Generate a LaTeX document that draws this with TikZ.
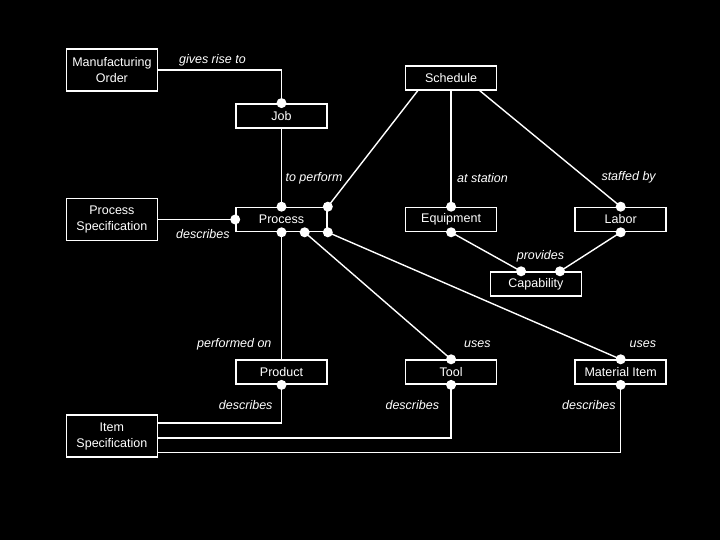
\documentclass[tikz,border=0pt]{standalone}
\usepackage{fontspec}
\setmainfont{Liberation Sans}
\usepackage{tikz}
\usetikzlibrary{positioning,calc}

\begin{document}
\begin{tikzpicture}[
  x=1pt, y=1pt,
  entity/.style={draw=white, line width=1.6pt, text=white, minimum width=91pt, minimum height=24pt, inner sep=2pt, align=center, font=\fontsize{12.5}{16}\selectfont},
  entity2/.style={entity, minimum height=42pt},
  link/.style={draw=white, line width=1.4pt},
  lbl/.style={text=white, font=\fontsize{12.5}{15}\selectfont\itshape},
  dot/.style={circle, fill=white, inner sep=0pt, minimum size=10pt}
]
\fill[black] (0,0) rectangle (720,540);
\useasboundingbox (0,0) rectangle (720,540);

% entities
\node[entity] (proc) at (281.5,320.5) {Process};
\node[entity2, left=77pt of proc] (pspec) {Process\\Specification};
\node[entity, right=77pt of proc] (equip) {Equipment};
\node[entity, right=77pt of equip] (labor) {Labor};
\node[entity, above=78pt of proc] (job) {Job};
\node[entity, above=116pt of equip] (sched) {Schedule};
\node[entity, below=127pt of proc] (prod) {Product};
\node[entity, below=127pt of equip] (tool) {Tool};
\node[entity, below=127pt of labor] (mat) {Material Item};
\node[entity2, above=106pt of pspec] (mo) {Manufacturing\\Order};
\node[entity2, below=173pt of pspec] (ispec) {Item\\Specification};
\coordinate (capmid) at ($(equip.south)!0.5!(labor.south)$);
\node[entity, below=39pt of capmid] (cap) {Capability};

% attachment points
\coordinate (schedL) at ($(sched.south west)!0.14!(sched.south east)$);
\coordinate (schedR) at ($(sched.south west)!0.81!(sched.south east)$);
\coordinate (procB) at ($(proc.south)!0.5!(proc.south east)$);
\coordinate (capL) at ($(cap.north west)!0.34!(cap.north east)$);
\coordinate (capR) at ($(cap.north west)!0.76!(cap.north east)$);
\coordinate (ispecA) at ($(ispec.north east)!0.2!(ispec.south east)$);
\coordinate (ispecB) at ($(ispec.north east)!0.54!(ispec.south east)$);
\coordinate (ispecC) at ($(ispec.north east)!0.88!(ispec.south east)$);

% relationships
\draw[link] (mo.east) -| (job.north) node[lbl, pos=0.22, above] {gives rise to};
\draw[link] (job.south) -- (proc.north) node[lbl, pos=0.63, right] {to perform};
\draw[link] (schedL) -- (proc.north east);
\draw[link] (sched.south) -- (equip.north) node[lbl, pos=0.75, right=2pt] {at station};
\draw[link] (schedR) -- (labor.north) node[lbl, pos=0.75, right=12pt] {staffed by};
\draw[link] (pspec.east) -- (proc.west) node[lbl, pos=0.58, below=6pt] {describes};
\draw[link] (equip.south) -- (capL);
\draw[link] (labor.south) -- (capR) node[lbl, pos=1, above=5.5pt, xshift=-19.5pt] {provides};
\draw[link] (proc.south) -- (prod.north) node[lbl, pos=0.88, left=6pt] {performed on};
\draw[link] (procB) -- (tool.north) node[lbl, pos=1, above right=7.5pt and 9pt] {uses};
\draw[link] (proc.south east) -- (mat.north) node[lbl, pos=1, above right=7.5pt and 5pt] {uses};
\draw[link] (prod.south) |- (ispecA) node[lbl, pos=0.27, left=5pt] {describes};
\draw[link] (tool.south) |- (ispecB) node[lbl, pos=0.19, left=8pt] {describes};
\draw[link] (mat.south) |- (ispecC) node[lbl, pos=0.15, left=1pt] {describes};

% connection dots
\node[dot] (dJob) at (job.north) {};
\node[dot] (dProcN) at (proc.north) {};
\node[dot] (dProcNE) at (proc.north east) {};
\node[dot] (dProcW) at (proc.west) {};
\node[dot] (dProcS) at (proc.south) {};
\node[dot] (dProcB) at (procB) {};
\node[dot] (dProcSE) at (proc.south east) {};
\node[dot] (dEquipN) at (equip.north) {};
\node[dot] (dEquipS) at (equip.south) {};
\node[dot] (dLaborN) at (labor.north) {};
\node[dot] (dLaborS) at (labor.south) {};
\node[dot] (dCapL) at (capL) {};
\node[dot] (dCapR) at (capR) {};
\node[dot] (dProd) at (prod.south) {};
\node[dot] (dToolN) at (tool.north) {};
\node[dot] (dToolS) at (tool.south) {};
\node[dot] (dMatN) at (mat.north) {};
\node[dot] (dMatS) at (mat.south) {};
\end{tikzpicture}
\end{document}
